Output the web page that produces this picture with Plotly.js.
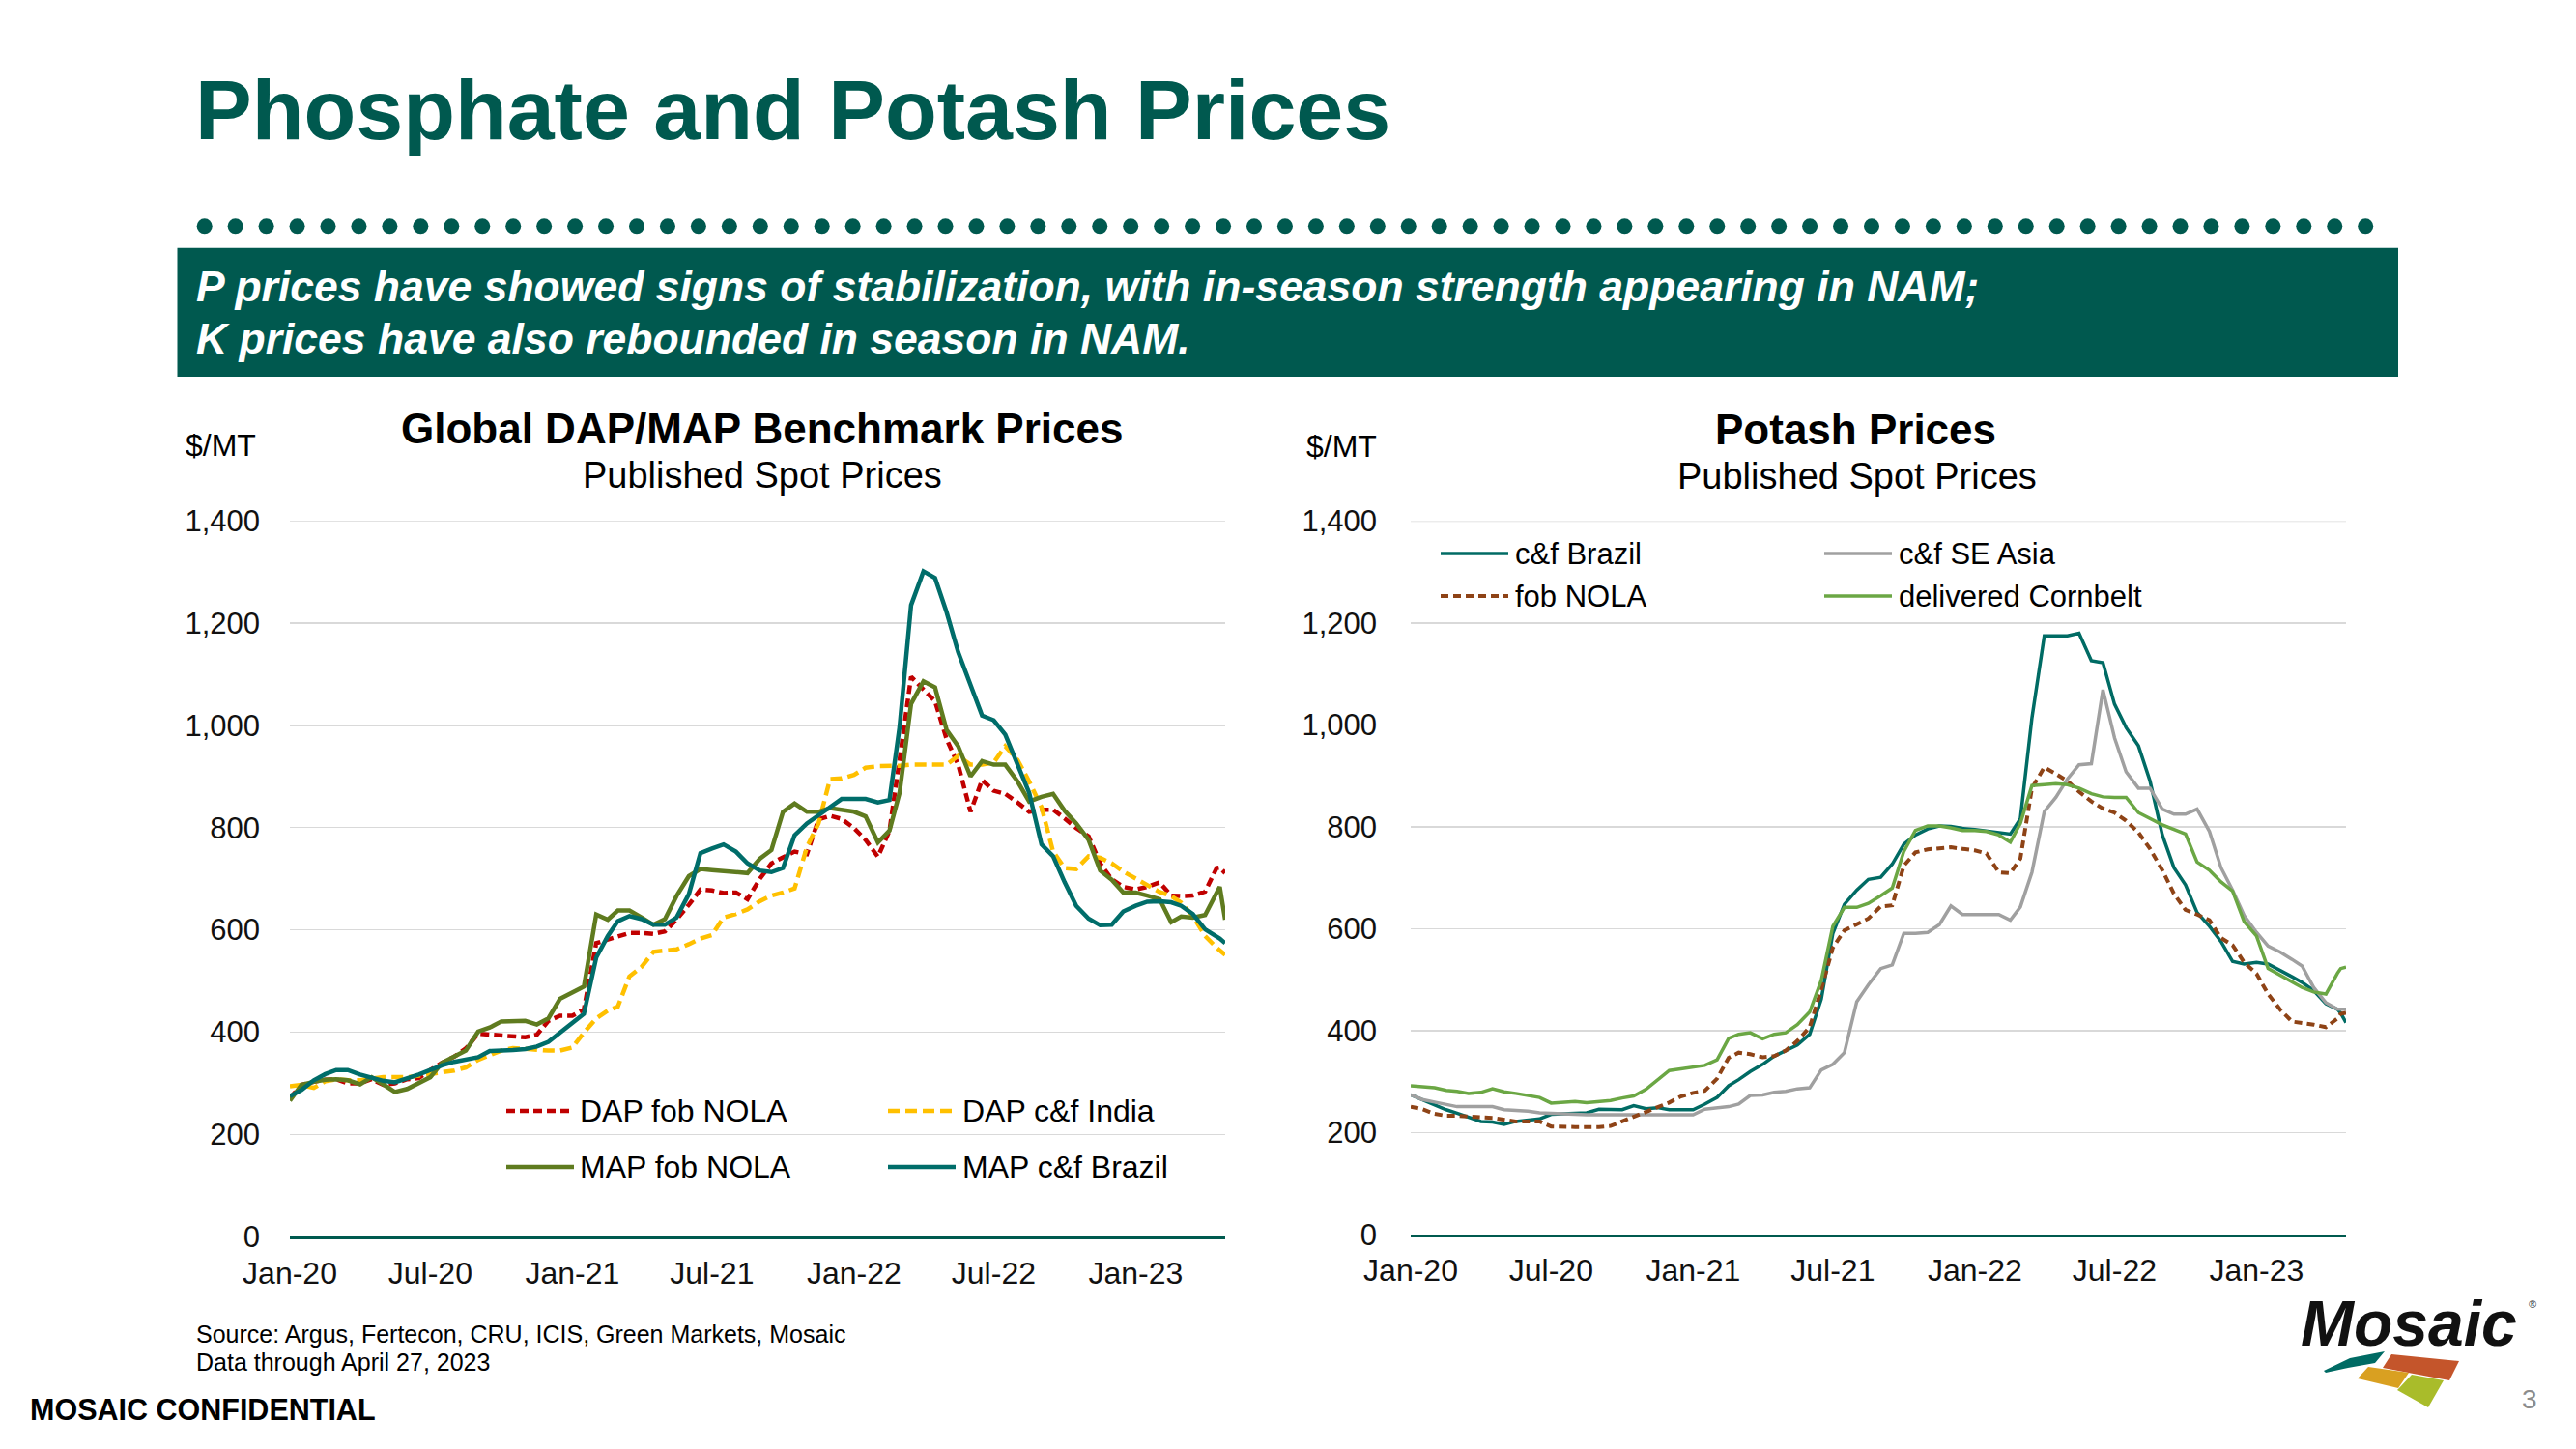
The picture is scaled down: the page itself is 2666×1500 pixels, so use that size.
<!DOCTYPE html>
<html>
<head>
<meta charset="utf-8">
<script src="https://cdn.plot.ly/plotly-3.0.1.min.js"></script>
<style>html,body{margin:0;padding:0;background:#fff;}#chart{width:2666px;height:1500px;}</style>
</head>
<body>
<div id="chart"></div>
<script>
// ---------- DATA ----------
const dates = [
 '2020-01-01','2020-01-16','2020-02-01','2020-02-16','2020-03-01','2020-03-16','2020-04-01','2020-04-16','2020-05-01','2020-05-16',
 '2020-06-01','2020-06-16','2020-07-01','2020-07-16','2020-08-01','2020-08-16','2020-09-01','2020-09-16','2020-10-01','2020-10-16',
 '2020-11-01','2020-11-16','2020-12-01','2020-12-16','2021-01-01','2021-01-16','2021-02-01','2021-02-16','2021-03-01','2021-03-16',
 '2021-04-01','2021-04-16','2021-05-01','2021-05-16','2021-06-01','2021-06-16','2021-07-01','2021-07-16','2021-08-01','2021-08-16',
 '2021-09-01','2021-09-16','2021-10-01','2021-10-16','2021-11-01','2021-11-16','2021-12-01','2021-12-16','2022-01-01','2022-01-16',
 '2022-02-01','2022-02-16','2022-03-01','2022-03-16','2022-04-01','2022-04-16','2022-05-01','2022-05-16','2022-06-01','2022-06-16',
 '2022-07-01','2022-07-16','2022-08-01','2022-08-16','2022-09-01','2022-09-16','2022-10-01','2022-10-16','2022-11-01','2022-11-16',
 '2022-12-01','2022-12-16','2023-01-01','2023-01-16','2023-02-01','2023-02-16','2023-03-01','2023-03-16','2023-04-01','2023-04-16',
 '2023-04-20','2023-04-27'];

// Global DAP/MAP benchmark prices ($/MT)
const dapFobNola = [271,297,303,307,308,300,300,308,297,300, 308,310,326,340,352,368,397,395,393,391,
 390,395,422,432,432,445,574,581,588,594, 594,592,597,620,649,679,677,672,673,660,
 700,730,742,753,748,816,823,817,799,776, 743,794,932,1095,1070,1047,973,923,831,893,
 872,866,849,831,835,835,818,799,783,730, 699,684,679,684,693,667,666,667,675,721, 722,711];
const dapCfIndia = [294,297,291,304,308,306,306,310,312,312, 312,315,318,322,325,331,346,355,364,369,
 367,364,364,364,370,399,427,442,450,509, 528,557,560,562,572,583,590,624,631,640,
 656,667,673,681,762,808,895,896,903,917, 920,920,921,923,923,923,923,940,923,923,
 927,959,932,890,840,753,721,719,744,741, 730,714,700,686,674,666,653,627,588,565, 560,551];
const mapFobNola = [266,297,303,307,308,306,298,312,298,283, 289,300,312,340,353,364,401,409,421,422,
 422,415,427,465,477,489,630,620,638,638, 624,610,621,666,705,719,717,715,713,711,
 739,756,831,847,831,831,838,834,831,822, 771,794,868,1042,1086,1074,991,959,900,930,
 923,923,890,851,860,866,833,808,776,716, 698,673,673,667,660,615,626,624,629,673, 684,620];
const mapCfBrazil = [275,287,306,318,326,326,317,310,305,302, 309,317,326,335,342,346,351,363,365,365,
 367,372,381,399,418,436,546,588,617,627, 621,610,610,624,670,750,759,767,753,730,
 716,713,721,785,808,823,840,856,856,856, 849,854,996,1235,1301,1288,1221,1143,1079,1019,
 1010,982,923,868,767,744,693,647,622,609, 610,636,647,655,656,654,647,631,601,588, 583,574];

// Potash prices ($/MT)
const kCfBrazil = [274,264,255,245,238,230,222,221,216,222, 224,227,236,237,237,239,246,246,245,253,
 247,249,245,245,245,256,269,292,304,320, 334,350,361,372,393,462,591,648,676,697,
 701,727,766,784,796,802,801,797,795,792, 788,786,816,1014,1175,1175,1175,1180,1126,1122,
 1041,995,959,890,784,720,686,632,605,575, 536,531,534,531,519,506,495,479,453,442, 435,416];
const kCfSEAsia = [274,265,260,256,251,251,251,251,245,244, 242,239,238,237,235,235,235,235,235,235,
 235,235,235,235,235,246,249,251,256,273, 274,279,281,286,288,323,334,357,457,490,
 522,529,591,591,593,608,645,628,628,628, 628,617,643,711,830,858,894,922,924,1069,
 975,908,876,876,835,825,825,835,791,720, 676,626,593,566,554,540,527,485,455,442, 442,442];
const kFobNola = [251,246,237,233,233,231,230,229,225,222, 222,222,212,211,211,211,211,213,222,231,
 239,248,259,271,278,282,306,347,357,354, 348,350,361,380,407,481,563,597,609,620,
 644,646,724,750,756,758,760,757,754,748, 711,709,738,876,917,904,890,869,850,836,
 828,812,789,757,715,669,637,628,617,582, 568,534,512,472,441,418,416,412,407,424, 433,435];
const kCornbelt = [292,290,288,283,281,277,279,286,280,277, 273,269,258,260,261,259,261,263,268,272,
 285,304,322,325,329,332,343,385,393,396, 384,393,396,412,437,499,605,642,642,650,
 665,680,752,793,802,802,798,793,793,791, 784,770,807,881,883,885,883,876,865,859,
 858,858,828,817,804,795,786,731,715,692, 674,614,586,522,508,495,485,476,472,513, 522,525];

const leftNames = ['DAP fob NOLA','DAP c&f India','MAP fob NOLA','MAP c&f Brazil'];
const rightNames = ['c&f Brazil','c&f SE Asia','fob NOLA','delivered Cornbelt'];
const yTickVals = [0,200,400,600,800,1000,1200,1400];

// ---------- LAYOUT HELPERS ----------
const W = 2666, H = 1500;
const px = x => x / W;
const py = y => 1 - y / H;
const FONT = 'Liberation Sans, Arial, Helvetica, sans-serif';
const GREEN = '#00594F';

const leftStyles = [
  {color:'#C00000', width:4.5, dash:'9px,5px'},
  {color:'#FFC000', width:4.5, dash:'12px,6px'},
  {color:'#5F7B1F', width:4.5, dash:'solid'},
  {color:'#006D6A', width:4.5, dash:'solid'}
];
const rightStyles = [
  {color:'#006B64', width:3.5, dash:'solid'},
  {color:'#A0A0A0', width:3.5, dash:'solid'},
  {color:'#8E4316', width:4, dash:'8px,5px'},
  {color:'#6BA744', width:3.5, dash:'solid'}
];
const leftSeries = [dapFobNola, dapCfIndia, mapFobNola, mapCfBrazil];
const rightSeries = [kCfBrazil, kCfSEAsia, kFobNola, kCornbelt];

const traces = [];
leftSeries.forEach((s, i) => traces.push({
  x: dates, y: s, type:'scatter', mode:'lines', name: leftNames[i],
  line: leftStyles[i], xaxis:'x', yaxis:'y', showlegend:false, hoverinfo:'skip'
}));
rightSeries.forEach((s, i) => traces.push({
  x: dates, y: s, type:'scatter', mode:'lines', name: rightNames[i],
  line: rightStyles[i], xaxis:'x2', yaxis:'y2', showlegend:false, hoverinfo:'skip'
}));

const shapes = [];
const annotations = [];
function ann(text, x, y, size, opts) {
  annotations.push(Object.assign({
    text: text, x: px(x), y: py(y), xref:'paper', yref:'paper', showarrow:false,
    xanchor:'left', yanchor:'middle', font:{family:FONT, size:size, color:'#000'}
  }, opts || {}));
}

// top gridline at 1,400 (range edge) for both charts
[['x','y'],['x2','y2']].forEach(([xa, ya]) => shapes.push({
  type:'line', xref: xa + ' domain', yref: ya, x0:0, x1:1, y0:1400, y1:1400,
  line:{color:'#D9D9D9', width:1.5}, layer:'below'
}));

// dotted row
for (let i = 0; i < 71; i++) {
  const cx = 211.7 + 31.95 * i, cy = 234.3, r = 8;
  shapes.push({type:'circle', xref:'paper', yref:'paper', x0:px(cx-r), x1:px(cx+r), y0:py(cy+r), y1:py(cy-r),
    fillcolor:GREEN, line:{width:0}});
}
// banner
shapes.push({type:'rect', xref:'paper', yref:'paper', x0:px(183.5), x1:px(2482), y0:py(390), y1:py(256.7),
  fillcolor:GREEN, line:{width:0}, layer:'below'});

// title + banner text
ann('<b>Phosphate and Potash Prices</b>', 200, 114, 88, {font:{family:FONT, size:88, color:GREEN}});
ann('<b><i>P prices have showed signs of stabilization, with in-season strength appearing in NAM;</i></b>', 201, 296, 44.5, {font:{family:FONT, size:44.5, color:'#fff'}});
ann('<b><i>K prices have also rebounded in season in NAM.</i></b>', 201, 350, 44.5, {font:{family:FONT, size:44.5, color:'#fff'}});

// chart titles
ann('<b>Global DAP/MAP Benchmark Prices</b>', 788, 443, 44, {xanchor:'center'});
ann('Published Spot Prices', 789, 492, 38, {xanchor:'center'});
ann('<b>Potash Prices</b>', 1921, 445, 44, {xanchor:'center'});
ann('Published Spot Prices', 1922, 493, 38, {xanchor:'center'});
ann('$/MT', 190, 461, 32);
ann('$/MT', 1350, 462, 32);

// legends (manual, to match the long sample lines)
function legendItem(name, style, x0, y, textX, size) {
  shapes.push({type:'line', xref:'paper', yref:'paper', x0:px(x0), x1:px(x0+70), y0:py(y), y1:py(y),
    line:{color:style.color, width:style.width, dash:style.dash}});
  ann(name, textX, y, size);
}
legendItem(leftNames[0], leftStyles[0], 524, 1150, 598, 32);
legendItem(leftNames[1], leftStyles[1], 919, 1150, 994, 32);
legendItem(leftNames[2], leftStyles[2], 524, 1208, 598, 32);
legendItem(leftNames[3], leftStyles[3], 919, 1208, 994, 32);
legendItem(rightNames[0], rightStyles[0], 1491, 573, 1566, 31);
legendItem(rightNames[1], rightStyles[1], 1888, 573, 1963, 31);
legendItem(rightNames[2], rightStyles[2], 1491, 617, 1566, 31);
legendItem(rightNames[3], rightStyles[3], 1888, 617, 1963, 31);

// footer
ann('Source: Argus, Fertecon, CRU, ICIS, Green Markets, Mosaic', 201, 1381, 25);
ann('Data through April 27, 2023', 201, 1410, 25);
ann('<b>MOSAIC CONFIDENTIAL</b>', 29, 1459, 30.5);
ann('3', 2618, 1448, 28, {xanchor:'center', font:{family:FONT, size:28, color:'#8C8C8C'}});

// logo
ann('<b><i>Mosaic</i></b>', 2493, 1370, 66, {xanchor:'center', font:{family:FONT, size:66, color:'#111'}});
ann('®', 2621, 1350, 11, {xanchor:'center', font:{family:FONT, size:11, color:'#333'}});
function poly(pts, color) {
  const d = pts.map((p, i) => (i ? 'L' : 'M') + px(p[0]).toFixed(5) + ',' + py(p[1]).toFixed(5)).join(' ') + ' Z';
  shapes.push({type:'path', xref:'paper', yref:'paper', path:d, fillcolor:color, line:{width:0}});
}
poly([[2405,1419],[2432,1406],[2468,1399],[2458,1411],[2430,1416],[2407,1421]], '#006B64');
poly([[2475,1402],[2545,1409],[2535,1429],[2466,1416]], '#C4552B');
poly([[2451,1415],[2493,1421],[2482,1437],[2440,1427]], '#D9A021');
poly([[2496,1423],[2529,1429],[2513,1457],[2481,1439]], '#A9BC2A');

const xCommon = {
  type:'date', range:['2020-01-01','2023-04-27'], tickformat:'%b-%y', tick0:'2020-01-01', dtick:'M6',
  showgrid:false, zeroline:false, showline:true, linecolor:'#005A4F', linewidth:3, ticks:'',
  tickfont:{family:FONT, size:32, color:'#111'}, ticklabelstandoff:7, fixedrange:true
};
const yCommon = {
  range:[0,1400], tickvals:yTickVals, tickformat:',d', showgrid:true, gridcolor:'#D9D9D9', gridwidth:1.5,
  zeroline:false, showline:false, ticks:'', tickfont:{family:FONT, size:31, color:'#111'},
  ticklabelstandoff:30, fixedrange:true
};

const layout = {
  width: W, height: H, margin:{l:0, r:0, t:0, b:0}, paper_bgcolor:'#fff', plot_bgcolor:'#fff',
  showlegend:false, hovermode:false, font:{family:FONT},
  xaxis: Object.assign({}, xCommon, {domain:[px(300), px(1268)], anchor:'y'}),
  yaxis: Object.assign({}, yCommon, {domain:[py(1280.3), py(539)], anchor:'x'}),
  xaxis2: Object.assign({}, xCommon, {domain:[px(1460), px(2428)], anchor:'y2'}),
  yaxis2: Object.assign({}, yCommon, {domain:[py(1278), py(539.5)], anchor:'x2', ticklabelstandoff:34}),
  shapes: shapes, annotations: annotations
};

Plotly.newPlot('chart', traces, layout, {displayModeBar:false, staticPlot:true});
</script>
</body>
</html>
